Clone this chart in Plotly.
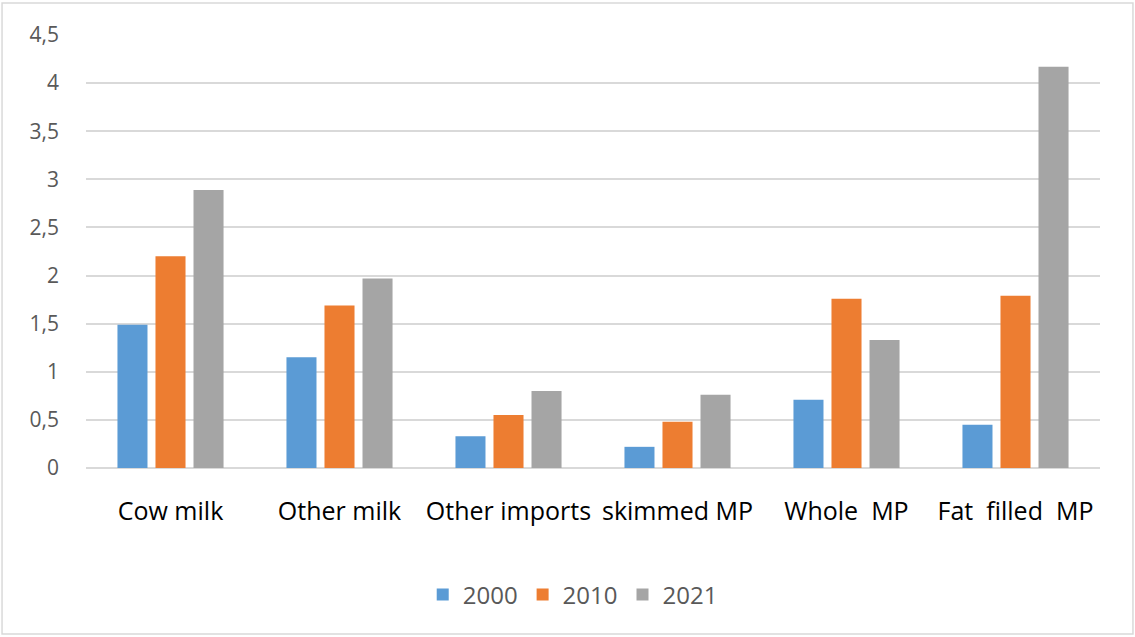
import plotly.graph_objects as go

categories = ["Cow milk", "Other milk", "Other imports", "skimmed MP", "Whole\u00a0 MP", "Fat\u00a0 filled\u00a0 MP"]
years = ["2000", "2010", "2021"]
v2000 = [1.49, 1.15, 0.33, 0.22, 0.71, 0.45]
v2010 = [2.20, 1.69, 0.55, 0.48, 1.76, 1.79]
v2021 = [2.89, 1.97, 0.80, 0.76, 1.33, 4.17]
colors = ["#5B9BD5", "#ED7D31", "#A5A5A5"]
series = [v2000, v2010, v2021]

fig = go.Figure()
for name, vals, c in zip(years, series, colors):
    fig.add_trace(go.Bar(x=categories, y=vals, name=name, marker=dict(color=c, line=dict(width=0))))

fig.update_layout(
    width=1135, height=637,
    margin=dict(l=86, r=35, t=35, b=169),
    paper_bgcolor="white", plot_bgcolor="white",
    barmode="group", bargap=0.325, bargroupgap=0.21,
    font=dict(family="Open Sans", size=20, color="#595959"),
    legend=dict(orientation="h", x=0.48, xanchor="center", y=-0.293, yanchor="middle",
                font=dict(size=24, color="#595959"), itemwidth=30, traceorder="normal"),
    separators=",.",
)
fig.update_xaxes(showgrid=False, showline=False, ticks="", tickfont=dict(size=25, color="#000000"),
                 ticklabelstandoff=26)
fig.update_yaxes(range=[0, 4.5], dtick=0.5, showgrid=True, gridcolor="#D9D9D9", gridwidth=1.5,
                 zeroline=True, zerolinecolor="#D9D9D9", zerolinewidth=1.5, showline=False,
                 ticks="", tickfont=dict(size=21, color="#595959"), ticklabelstandoff=26)
fig.add_shape(type="rect", xref="paper", yref="paper", x0=-0.0828, x1=1.0325, y0=-0.3834, y1=1.0739,
              line=dict(color="#D9D9D9", width=1.5), fillcolor="rgba(0,0,0,0)", layer="below")
fig.write_html("out.html", config={"displayModeBar": False},
               post_script="document.body.style.margin='0';")
